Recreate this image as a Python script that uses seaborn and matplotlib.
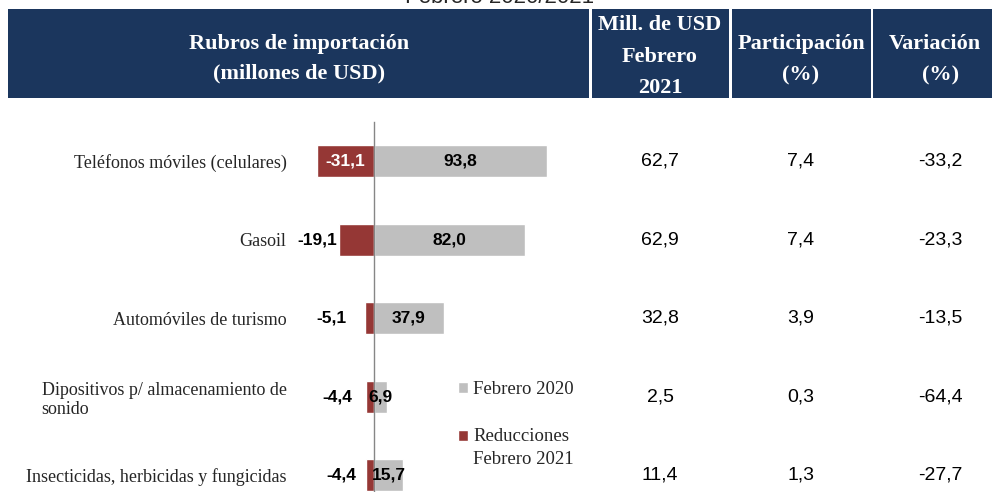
import matplotlib
matplotlib.use("Agg")
import matplotlib.pyplot as plt
import matplotlib.transforms as mtransforms
from matplotlib.patches import Rectangle, Patch
from matplotlib.legend_handler import HandlerPatch
import seaborn as sns

# data
categories = [
    "Teléfonos móviles (celulares)",
    "Gasoil",
    "Automóviles de turismo",
    "Dipositivos p/ almacenamiento de\nsonido",
    "Insecticidas, herbicidas y fungicidas",
]
feb_2020 = [93.8, 82.0, 37.9, 6.9, 15.7]
reducciones = [-31.1, -19.1, -5.1, -4.4, -4.4]
mill_feb_2021 = [62.7, 62.9, 32.8, 2.5, 11.4]
participacion = [7.4, 7.4, 3.9, 0.3, 1.3]
variacion = [-33.2, -23.3, -13.5, -64.4, -27.7]

series_labels = ["Febrero 2020", "Reducciones\nFebrero 2021"]
title = "Febrero 2020/2021"

GRAY = "#bfbfbf"
RED = "#953735"
NAVY = "#1b365d"
SERIF = "Liberation Serif"
SANS = "Liberation Sans"

W, H = 992, 492
# gap (pt) between the small red bars and their labels, as in the reference
red_label_gap = [0, 1.5, 13, 10, 7]


def fmt(v):
    return f"{v:.1f}".replace(".", ",")


def fx(px):
    return px / W


def fy(py):
    return 1 - py / H


def draw_header(fig):
    cells = [(8, 589), (592, 729), (732, 871), (873, 992)]
    for x0, x1 in cells:
        fig.add_artist(Rectangle((fx(x0), fy(98)), fx(x1 - x0), (98 - 9) / H,
                                 transform=fig.transFigure, facecolor=NAVY,
                                 edgecolor="none"))
    lines = [
        ("Rubros de importación", 299, 44),
        ("(millones de USD)", 299, 73),
        ("Mill. de USD", 660, 25),
        ("Febrero", 660, 57),
        ("2021", 660, 88),
        ("Participación", 801, 44),
        ("(%)", 801, 75),
        ("Variación", 935, 44),
        ("(%)", 941, 75),
    ]
    for txt, x, y in lines:
        fig.text(fx(x), fy(y), txt, ha="center", va="center", color="white",
                 fontsize=16, fontweight="bold", family=SERIF)


def first_line_patch(legend, orig_handle, xdescent, ydescent, width, height,
                     fontsize):
    # put the square next to the first line of a two-line label
    shift = 12 * 72 / 100
    return Rectangle((-xdescent, -ydescent + shift), width, height)


def main():
    sns.set_style("white")
    fig = plt.figure(figsize=(W / 100, H / 100), dpi=100)
    fig.text(fx(500), fy(3), title, ha="center", va="baseline",
             fontsize=16, family=SANS)
    draw_header(fig)

    ax = fig.add_axes([fx(302), 0, fx(600 - 302), 1 - 122 / H])
    sns.barplot(x=feb_2020, y=categories, color=GRAY, width=0.41,
                saturation=1, orient="h", ax=ax)
    sns.barplot(x=reducciones, y=categories, color=RED, width=0.41,
                saturation=1, orient="h", ax=ax)

    ax.set_xlim(-72 / 1.84, 226 / 1.84)
    ax.set_ylim(-0.5 + 370 / 78.5, -0.5)
    for s in ["top", "right", "bottom"]:
        ax.spines[s].set_visible(False)
    ax.spines["left"].set_position(("data", 0))
    ax.spines["left"].set_color("#868686")
    ax.spines["left"].set_linewidth(1.0)
    ax.set_xticks([])
    ax.set_xlabel("")
    ax.set_ylabel("")
    ax.set_yticks(range(len(categories)))
    ax.set_yticklabels(categories, family=SERIF, fontsize=13)
    ax.tick_params(axis="y", which="major", length=0, pad=63)
    ax.set_yticks([i - 0.5 for i in range(len(categories))], minor=True)
    ax.tick_params(axis="y", which="minor", length=4, width=1,
                   color="#868686", direction="out")
    for lbl in ax.get_yticklabels():
        lbl.set_multialignment("left")

    for i, (g, r) in enumerate(zip(feb_2020, reducciones)):
        ax.text(g / 2, i, fmt(g), ha="center", va="center", fontsize=12.5,
                fontweight="bold", family=SANS, color="black")
        if abs(r) > 25:
            ax.text(r / 2, i, fmt(r), ha="center", va="center", fontsize=12.5,
                    fontweight="bold", family=SANS, color="white")
        else:
            ax.annotate(fmt(r), (r, i), xytext=(-red_label_gap[i], 0),
                        textcoords="offset points", ha="right", va="center",
                        fontsize=12.5, fontweight="bold", family=SANS,
                        color="black")

    gray_h, red_h = Patch(facecolor=GRAY), Patch(facecolor=RED)
    leg = ax.legend([gray_h, red_h], series_labels, loc="upper left",
                    bbox_to_anchor=(fx(458), fy(381)),
                    bbox_transform=fig.transFigure,
                    frameon=False, prop={"family": SERIF, "size": 13.5},
                    handlelength=0.55, handleheight=0.55, handletextpad=0.25,
                    labelspacing=1.6, borderpad=0, borderaxespad=0,
                    handler_map={red_h: HandlerPatch(patch_func=first_line_patch)})
    for t in leg.get_texts():
        t.set_linespacing(1.44)

    # table columns to the right of the chart
    trans = mtransforms.blended_transform_factory(fig.transFigure, ax.transData)
    for col, xc in [(mill_feb_2021, 660), (participacion, 801), (variacion, 940)]:
        for i, v in enumerate(col):
            ax.text(fx(xc), i, fmt(v), transform=trans, ha="center",
                    va="center", fontsize=14, family=SANS, color="black",
                    clip_on=False)

    fig.savefig("out.png", dpi=100)


if __name__ == "__main__":
    main()
